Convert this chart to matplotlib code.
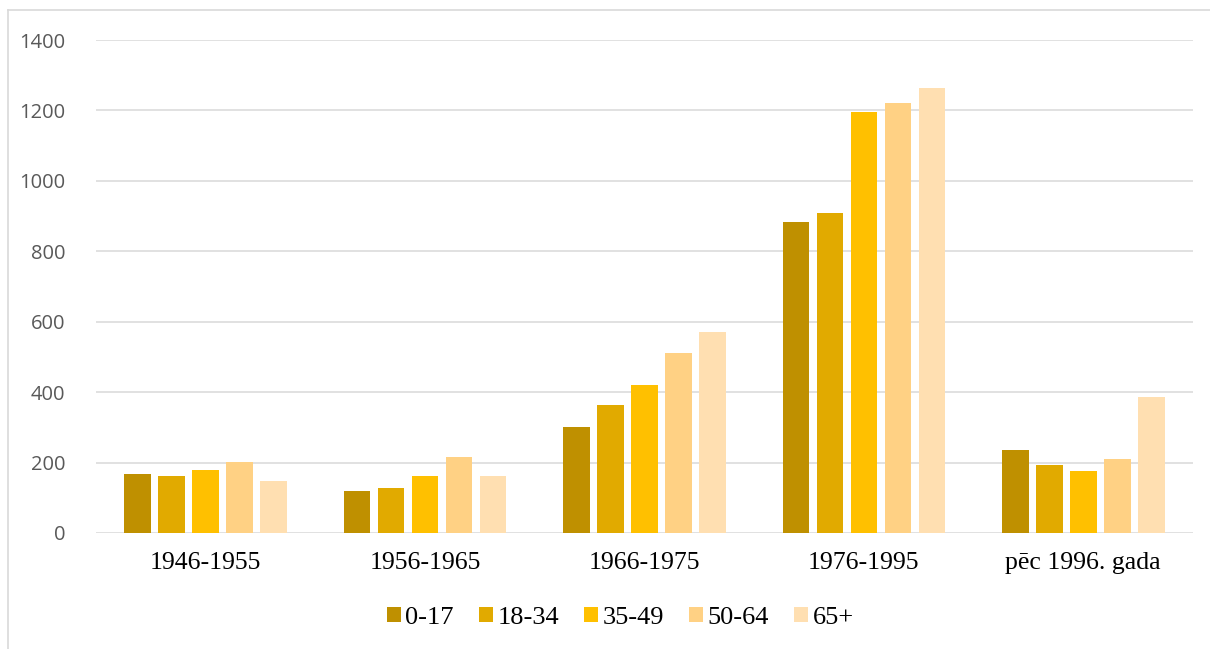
import numpy as np
import matplotlib
matplotlib.use("Agg")
import matplotlib.pyplot as plt
from matplotlib.lines import Line2D

# building periods and resident age groups
periods = ["1946-1955", "1956-1965", "1966-1975", "1976-1995", "pēc 1996. gada"]
age_groups = ["0-17", "18-34", "35-49", "50-64", "65+"]

vals_0_17 = [167, 120, 301, 882, 236]
vals_18_34 = [163, 128, 364, 908, 194]
vals_35_49 = [179, 163, 421, 1195, 177]
vals_50_64 = [202, 217, 510, 1221, 210]
vals_65 = [148, 162, 572, 1265, 386]

series = [vals_0_17, vals_18_34, vals_35_49, vals_50_64, vals_65]
colors = ["#BF9000", "#E1AA00", "#FFC000", "#FFD184", "#FFDFB1"]

yticks = [0, 200, 400, 600, 800, 1000, 1200, 1400]

fig = plt.figure(figsize=(12.1, 6.49), dpi=100)
ax = fig.add_axes([96 / 1210, 1 - 533 / 649, 1097 / 1210, 493 / 649])

x = np.arange(len(periods))
step = 0.155
width = 0.122
for i, (vals, col) in enumerate(zip(series, colors)):
    offs = (i - 2) * step
    ax.bar(x + offs, vals, width, color=col, label=age_groups[i], zorder=3)

ax.set_xlim(-0.5, len(periods) - 0.5)
ax.set_ylim(0, 1400)
ax.set_yticks(yticks)
ax.set_yticklabels([str(t) for t in yticks], fontfamily="Open Sans",
                   fontsize=14.5, color="#595959")
ax.set_xticks(x)
ax.set_xticklabels(periods, fontfamily="Liberation Serif", fontsize=18.5,
                   color="black")
ax.tick_params(axis="y", length=0, pad=22)
ax.tick_params(axis="x", length=0, pad=14)
ax.grid(axis="y", color="#D9D9D9", linewidth=1.1, zorder=0)
for s in ax.spines.values():
    s.set_visible(False)

leg = ax.legend(loc="center", bbox_to_anchor=(0.478, -0.172), ncol=5,
                frameon=False, handlelength=0.52, handleheight=0.52,
                handletextpad=0.18, columnspacing=0.95,
                prop={"family": "Liberation Serif", "size": 19})

# chart frame, only top and left edges are in view
fig.add_artist(Line2D([7.5 / 1210, 7.5 / 1210], [0, 1 - 10 / 649],
                      transform=fig.transFigure, color="#D9D9D9", lw=1.2))
fig.add_artist(Line2D([7.5 / 1210, 1], [1 - 10 / 649, 1 - 10 / 649],
                      transform=fig.transFigure, color="#D9D9D9", lw=1.2))

fig.savefig("out.png", dpi=100)
